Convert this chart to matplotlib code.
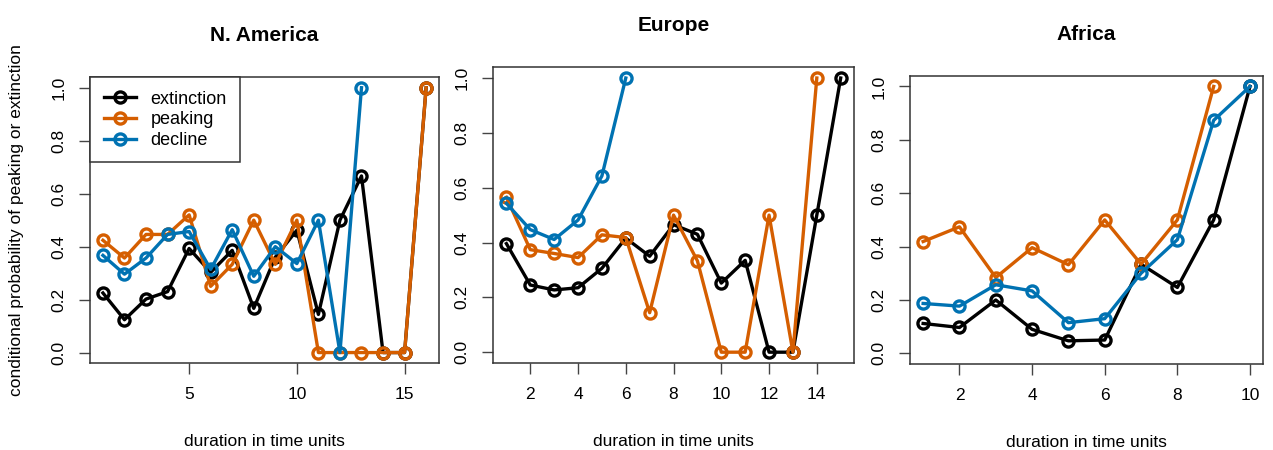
import matplotlib.pyplot as plt
import numpy as np

plt.rcParams['font.family'] = ['Liberation Sans', 'DejaVu Sans']

# colours for the three series
c_ext = 'black'
c_peak = '#D55E00'
c_dec = '#0072B2'

# N. America
na_ext = [0.225, 0.124, 0.202, 0.23, 0.393, 0.303, 0.386, 0.167, 0.36, 0.462,
          0.144, 0.5, 0.667, 0.0, 0.0, 1.0]
na_peak = [0.424, 0.357, 0.446, 0.446, 0.52, 0.25, 0.333, 0.5, 0.333, 0.5,
           0.0, 0.0, 0.0, 0.0, 0.0, 1.0]
na_dec = [0.367, 0.296, 0.357, 0.446, 0.457, 0.314, 0.464, 0.288, 0.4, 0.336,
          0.5, 0.0, 1.0]

# Europe
eu_ext = [0.396, 0.245, 0.227, 0.235, 0.306, 0.416, 0.35, 0.465, 0.43, 0.252,
          0.335, 0.0, 0.0, 0.5, 1.0]
eu_peak = [0.565, 0.374, 0.36, 0.345, 0.428, 0.418, 0.144, 0.5, 0.333, 0.0,
           0.0, 0.5, 0.0, 1.0]
eu_dec = [0.543, 0.447, 0.411, 0.482, 0.643, 1.0]

# Africa
af_ext = [0.112, 0.097, 0.2, 0.09, 0.047, 0.05, 0.334, 0.247, 0.5, 1.0]
af_peak = [0.419, 0.474, 0.284, 0.396, 0.332, 0.5, 0.334, 0.5, 1.0]
af_dec = [0.187, 0.177, 0.257, 0.234, 0.115, 0.13, 0.3, 0.426, 0.873, 1.0]

panels = [
    ('N. America', na_ext, na_peak, na_dec, [5, 10, 15],
     [0.0707, 0.193, 0.2742, 0.6356]),
    ('Europe', eu_ext, eu_peak, eu_dec, [2, 4, 6, 8, 10, 12, 14],
     [0.3873, 0.193, 0.2836, 0.658]),
    ('Africa', af_ext, af_peak, af_dec, [2, 4, 6, 8, 10],
     [0.7149, 0.191, 0.2773, 0.6407]),
]

fig = plt.figure(figsize=(12.73, 4.5), dpi=100)

for i, (title, ext, peak, dec, xt, pos) in enumerate(panels):
    ax = fig.add_axes(pos)
    n = max(len(ext), len(peak), len(dec))
    style = dict(marker='o', markersize=8, mfc='none', mew=2.4, lw=2.4)
    ax.plot(np.arange(1, len(ext) + 1), ext, color=c_ext, label='extinction', **style)
    ax.plot(np.arange(1, len(peak) + 1), peak, color=c_peak, label='peaking', **style)
    ax.plot(np.arange(1, len(dec) + 1), dec, color=c_dec, label='decline', **style)

    pad_x = 0.04 * (n - 1)
    ax.set_xlim(1 - pad_x, n + pad_x)
    ax.set_ylim(-0.04, 1.04)
    ax.set_xticks(xt)
    ax.set_yticks([0.0, 0.2, 0.4, 0.6, 0.8, 1.0])
    ax.set_yticklabels(['0.0', '0.2', '0.4', '0.6', '0.8', '1.0'],
                       rotation=90, va='center')
    ax.tick_params(length=8, width=1, labelsize=12.5, pad=9, color='#444444')
    for s in ax.spines.values():
        s.set_linewidth(1.1)
        s.set_color('#333333')
    ax.set_title(title, fontsize=15, fontweight='bold', pad=26)
    ax.set_xlabel('duration in time units', fontsize=12.5, labelpad=23)
    if i == 0:
        ax.set_ylabel('conditional probability of peaking or extinction',
                      fontsize=12.5, labelpad=20)
        leg = ax.legend(loc='upper left', borderaxespad=0, fontsize=13,
                        fancybox=False, edgecolor='#333333', framealpha=1,
                        handlelength=1.8, labelspacing=0.2, borderpad=0.75,
                        handletextpad=0.8)
        leg.get_frame().set_linewidth(1.1)

fig.savefig('out.png', dpi=100)
